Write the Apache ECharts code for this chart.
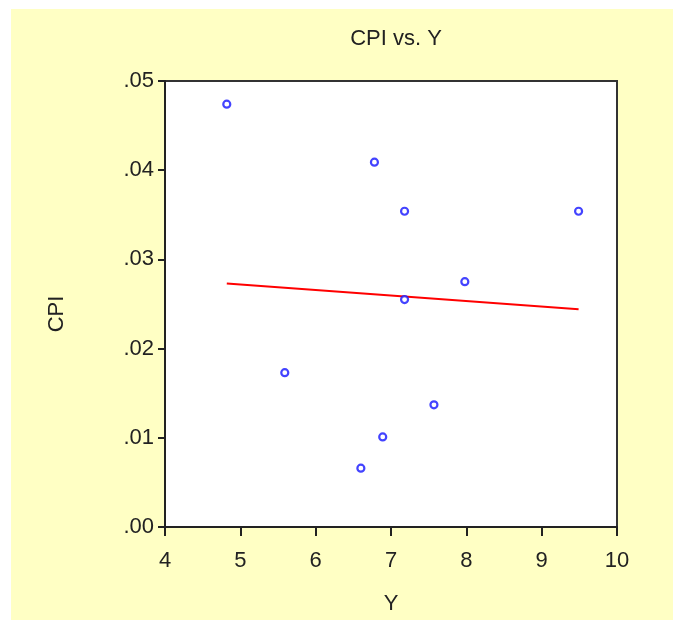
<!DOCTYPE html>
<html>
<head>
<meta charset="utf-8">
<script src="https://cdn.jsdelivr.net/npm/echarts@6/dist/echarts.min.js"></script>
<style>
  html, body { margin: 0; padding: 0; background: #ffffff; overflow: hidden; }
  #chart { position: absolute; left: 11px; top: 9px; width: 662px; height: 611px; background: #ffffc4; }
</style>
</head>
<body>
<div id="chart"></div>
<script>
// 散点数据 (Y, CPI)
const yValues = [4.82, 6.78, 7.18, 9.49, 7.98, 7.18, 5.59, 6.60, 6.89, 7.57];
const cpiValues = [0.0474, 0.0409, 0.0354, 0.0354, 0.0275, 0.0255, 0.0173, 0.0066, 0.0101, 0.0137];

// 回归线两端
const fitX = [4.82, 9.49];
const fitY = [0.0273, 0.0244];

const fontFamily = 'Liberation Sans, Arial, sans-serif';

const chart = echarts.init(document.getElementById('chart'));

chart.setOption({
    animation: false,
    title: {
        text: 'CPI vs. Y',
        left: 380, top: 14, textAlign: 'center',
        textStyle: { fontFamily, fontSize: 22, fontWeight: 'normal', color: '#222' }
    },
    grid: {
        left: 154, top: 72, right: 56, bottom: 91,
        show: true, backgroundColor: '#ffffff', borderColor: '#333', borderWidth: 2
    },
    xAxis: {
        type: 'value', min: 4, max: 10, interval: 1,
        name: 'Y', nameLocation: 'middle', nameGap: 66,
        nameTextStyle: { fontFamily, fontSize: 22, color: '#222' },
        axisLine: { show: true, lineStyle: { color: '#222', width: 2 } },
        axisTick: { show: true, length: 9, lineStyle: { color: '#222', width: 2 } },
        axisLabel: { fontFamily, fontSize: 22, color: '#222', margin: 23 },
        splitLine: { show: false }
    },
    yAxis: {
        type: 'value', min: 0, max: 0.05, interval: 0.01,
        name: 'CPI', nameLocation: 'middle', nameGap: 97,
        nameTextStyle: { fontFamily, fontSize: 22, color: '#222', padding: [0, 20, 0, 0] },
        axisLine: { show: true, lineStyle: { color: '#222', width: 2 } },
        axisTick: { show: true, length: 7, lineStyle: { color: '#222', width: 2 } },
        axisLabel: {
            fontFamily, fontSize: 22, color: '#222', margin: 11,
            formatter: (v) => v.toFixed(2).replace(/^0/, '')
        },
        splitLine: { show: false }
    },
    series: [
        {
            type: 'scatter',
            data: yValues.map((x, i) => [x, cpiValues[i]]),
            symbol: 'circle', symbolSize: 7,
            itemStyle: { color: '#ffffff', borderColor: '#1414ff', borderWidth: 2.2 },
            z: 3
        },
        {
            type: 'line',
            data: fitX.map((x, i) => [x, fitY[i]]),
            showSymbol: false,
            lineStyle: { color: '#ff0000', width: 2 },
            z: 2
        }
    ]
});
</script>
</body>
</html>
